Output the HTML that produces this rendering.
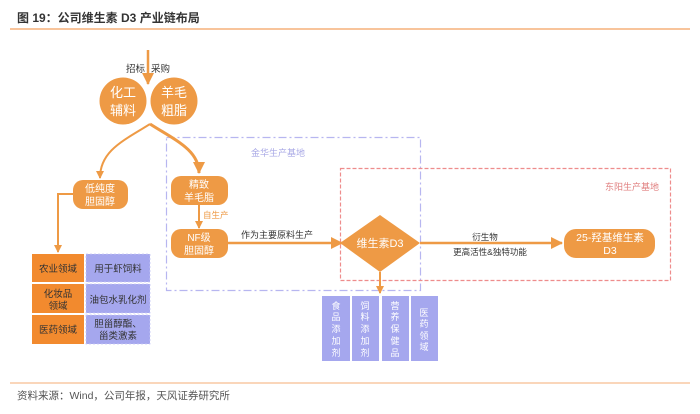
<!DOCTYPE html>
<html><head><meta charset="utf-8"><style>
body{margin:0;width:700px;height:409px;background:#fff;overflow:hidden}
svg text{font-family:"Liberation Sans","Noto Sans CJK SC",sans-serif}
</style></head><body>
<svg width="700" height="409" viewBox="0 0 700 409" xmlns="http://www.w3.org/2000/svg">
<defs>
<marker id="ah" markerWidth="8" markerHeight="8" refX="7" refY="4" orient="auto" markerUnits="userSpaceOnUse"><path d="M0,0 L8,4 L0,8 z" fill="#EE9A45"/></marker>
<marker id="ahb" markerWidth="12" markerHeight="12" refX="11" refY="6" orient="auto" markerUnits="userSpaceOnUse"><path d="M0,0 L12,6 L0,12 z" fill="#EE9A45"/></marker>
</defs>
<text x="17" y="22" font-size="12" font-weight="bold" fill="#333">图 19：公司维生素 D3 产业链布局</text>
<line x1="10" y1="29" x2="690" y2="29" stroke="#F5B07A" stroke-width="1.5"/>
<line x1="10" y1="383" x2="690" y2="383" stroke="#F9C9A3" stroke-width="1.5"/>
<text x="17" y="399" font-size="10.5" fill="#555">资料来源：Wind，公司年报，天风证券研究所</text>

<rect x="166.5" y="137.5" width="254" height="153" fill="none" stroke="#B7B6F0" stroke-width="1.2" stroke-dasharray="8,3,2,3"/>
<text x="278" y="156" font-size="9" fill="#A9A9E6" text-anchor="middle">金华生产基地</text>
<rect x="340.5" y="168.5" width="330" height="112" fill="none" stroke="#EE8C8C" stroke-width="1.2" stroke-dasharray="4,2"/>
<text x="632" y="190" font-size="9" fill="#E08080" text-anchor="middle">东阳生产基地</text>

<line x1="148" y1="50" x2="148" y2="84" stroke="#EE9A45" stroke-width="2.5" marker-end="url(#ahb)"/>
<text x="145" y="72" font-size="9.5" fill="#333" text-anchor="end">招标</text>
<text x="151" y="72" font-size="9.5" fill="#333">采购</text>
<circle cx="123" cy="101" r="23.5" fill="#EE9A45"/>
<circle cx="174" cy="101" r="23.5" fill="#EE9A45"/>
<text x="123" y="97" font-size="13" fill="#fff" text-anchor="middle">化工</text>
<text x="123" y="115" font-size="13" fill="#fff" text-anchor="middle">辅料</text>
<text x="174" y="97" font-size="13" fill="#fff" text-anchor="middle">羊毛</text>
<text x="174" y="115" font-size="13" fill="#fff" text-anchor="middle">粗脂</text>

<path d="M150,124 C125,140 100,150 100,178" fill="none" stroke="#EE9A45" stroke-width="2" marker-end="url(#ah)"/>
<path d="M150,124 C175,140 199,150 199,173" fill="none" stroke="#EE9A45" stroke-width="3" marker-end="url(#ahb)"/>

<rect x="73" y="180" width="55" height="29" rx="10" fill="#EE9A45"/>
<text x="100" y="192" font-size="10" fill="#fff" text-anchor="middle">低纯度</text>
<text x="100" y="205" font-size="10" fill="#fff" text-anchor="middle">胆固醇</text>
<polyline points="73,194 58,194 58,252" fill="none" stroke="#EE9A45" stroke-width="2" marker-end="url(#ah)"/>

<rect x="171" y="176" width="57" height="29" rx="10" fill="#EE9A45"/>
<text x="199" y="188" font-size="10" fill="#fff" text-anchor="middle">精致</text>
<text x="199" y="201" font-size="10" fill="#fff" text-anchor="middle">羊毛脂</text>
<line x1="199" y1="205" x2="199" y2="228" stroke="#EE9A45" stroke-width="2" marker-end="url(#ah)"/>
<text x="203" y="218" font-size="8.5" fill="#EE9A45">自生产</text>
<rect x="171" y="229" width="57" height="29" rx="10" fill="#EE9A45"/>
<text x="199" y="241" font-size="10" fill="#fff" text-anchor="middle">NF级</text>
<text x="199" y="254" font-size="10" fill="#fff" text-anchor="middle">胆固醇</text>
<line x1="228" y1="243" x2="342" y2="243" stroke="#EE9A45" stroke-width="2.5" marker-end="url(#ahb)"/>
<text x="277" y="238" font-size="9" fill="#333" text-anchor="middle">作为主要原料生产</text>

<polygon points="380,215 420,243 380,272 340,243" fill="#EE9A45"/>
<text x="380" y="247" font-size="11" fill="#fff" text-anchor="middle">维生素D3</text>
<line x1="420" y1="243" x2="562" y2="243" stroke="#EE9A45" stroke-width="2.5" marker-end="url(#ahb)"/>
<text x="485" y="240" font-size="8.5" fill="#333" text-anchor="middle">衍生物</text>
<text x="490" y="255" font-size="8.5" fill="#333" text-anchor="middle">更高活性&amp;独特功能</text>
<rect x="564" y="229" width="91" height="29" rx="12" fill="#EE9A45"/>
<text x="610" y="241" font-size="10.5" fill="#fff" text-anchor="middle">25-羟基维生素</text>
<text x="610" y="254" font-size="10.5" fill="#fff" text-anchor="middle">D3</text>
<line x1="380" y1="272" x2="380" y2="293" stroke="#EE9A45" stroke-width="2" marker-end="url(#ah)"/>

<g fill="#A5A7EE">
<rect x="322" y="296" width="28" height="65"/><rect x="352" y="296" width="27" height="65"/>
<rect x="382" y="296" width="27" height="65"/><rect x="411" y="296" width="27" height="65"/>
</g>
<g font-size="9" fill="#fff" text-anchor="middle">
<text x="336" y="309">食</text><text x="336" y="320">品</text><text x="336" y="332">添</text><text x="336" y="344">加</text><text x="336" y="356">剂</text>
<text x="365" y="309">饲</text><text x="365" y="320">料</text><text x="365" y="332">添</text><text x="365" y="344">加</text><text x="365" y="356">剂</text>
<text x="395" y="309">营</text><text x="395" y="320">养</text><text x="395" y="332">保</text><text x="395" y="344">健</text><text x="395" y="356">品</text>
<text x="424" y="316">医</text><text x="424" y="327">药</text><text x="424" y="339">领</text><text x="424" y="350">域</text>
</g>

<g fill="#F28A2E">
<rect x="32" y="254" width="52" height="28"/><rect x="32" y="284" width="52" height="29"/><rect x="32" y="315" width="52" height="29"/>
</g>
<g fill="#A5A7EE" stroke="#C7C8F5" stroke-dasharray="2,2" stroke-width="0.8">
<rect x="86" y="254" width="64" height="28"/><rect x="86" y="284" width="64" height="29"/><rect x="86" y="315" width="64" height="29"/>
</g>
<g font-size="9.5" fill="#333" text-anchor="middle">
<text x="58" y="272">农业领域</text>
<text x="58" y="297">化妆品</text><text x="58" y="309">领域</text>
<text x="58" y="333">医药领域</text>
<text x="118" y="272">用于虾饲料</text>
<text x="118" y="303">油包水乳化剂</text>
<text x="118" y="327">胆甾醇酯、</text><text x="118" y="339">甾类激素</text>
</g>
</svg>
</body></html>
